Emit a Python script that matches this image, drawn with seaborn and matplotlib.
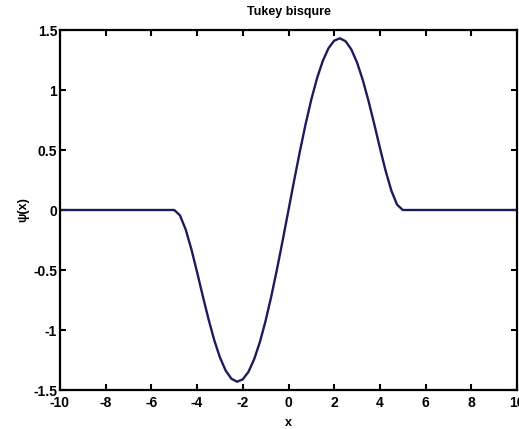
import numpy as np
import pandas as pd
import matplotlib
matplotlib.use("Agg")
import matplotlib.pyplot as plt
import seaborn as sns

# Tukey bisquare psi function, sampled points (c = 5)
x_pos = [0.0, 0.25, 0.5, 0.75, 1.0, 1.25, 1.5, 1.75, 2.0, 2.25, 2.5, 2.75,
         3.0, 3.25, 3.5, 3.75, 4.0, 4.25, 4.5, 4.75, 5.0, 10.0]
psi_pos = [0.0, 0.249, 0.490, 0.717, 0.922, 1.099, 1.242, 1.348, 1.411, 1.431,
           1.406, 1.338, 1.229, 1.084, 0.910, 0.718, 0.518, 0.327, 0.162, 0.045,
           0.0, 0.0]

xs = [-v for v in x_pos[:0:-1]] + x_pos
ys = [-v for v in psi_pos[:0:-1]] + psi_pos
df = pd.DataFrame({"x": xs, "psi": ys})

x_ticks = [-10, -8, -6, -4, -2, 0, 2, 4, 6, 8, 10]
y_ticks = [-1.5, -1, -0.5, 0, 0.5, 1, 1.5]
y_tick_labels = ["-1.5", "-1", "-0.5", "0", "0.5", "1", "1.5"]

sns.set_style("ticks")
plt.rcParams["font.family"] = ["Liberation Sans", "DejaVu Sans"]
plt.rcParams["font.weight"] = "bold"
plt.rcParams["text.color"] = "black"
plt.rcParams["axes.labelcolor"] = "black"

fig = plt.figure(figsize=(5.19, 4.29), dpi=100)
ax = fig.add_axes([60 / 519, 1 - 390 / 429, 457 / 519, 360 / 429])

sns.lineplot(data=df, x="x", y="psi", ax=ax, color="#1c1c5c", linewidth=1.7,
             sort=False)

ax.set_xlim(-10, 10)
ax.set_ylim(-1.5, 1.5)
ax.set_xticks(x_ticks)
ax.set_xticklabels([str(t) for t in x_ticks])
ax.set_yticks(y_ticks)
ax.set_yticklabels(y_tick_labels)
ax.tick_params(direction="in", length=4, width=1.5, labelsize=10,
               top=True, right=True, pad=2, colors="black")
ax.tick_params(axis="x", pad=4)
for lab in ax.get_xticklabels() + ax.get_yticklabels():
    lab.set_fontweight("bold")
for sp in ax.spines.values():
    sp.set_visible(True)
    sp.set_linewidth(1.6)
    sp.set_color("black")

ax.set_title("Tukey bisqure", fontsize=9, fontweight="bold", pad=11,
             color="black")
ax.set_xlabel("x", fontsize=9, fontweight="bold", labelpad=5)
ax.set_ylabel("ψ(x)", fontsize=9, fontweight="bold", labelpad=3)

fig.savefig("out.png", dpi=100)
